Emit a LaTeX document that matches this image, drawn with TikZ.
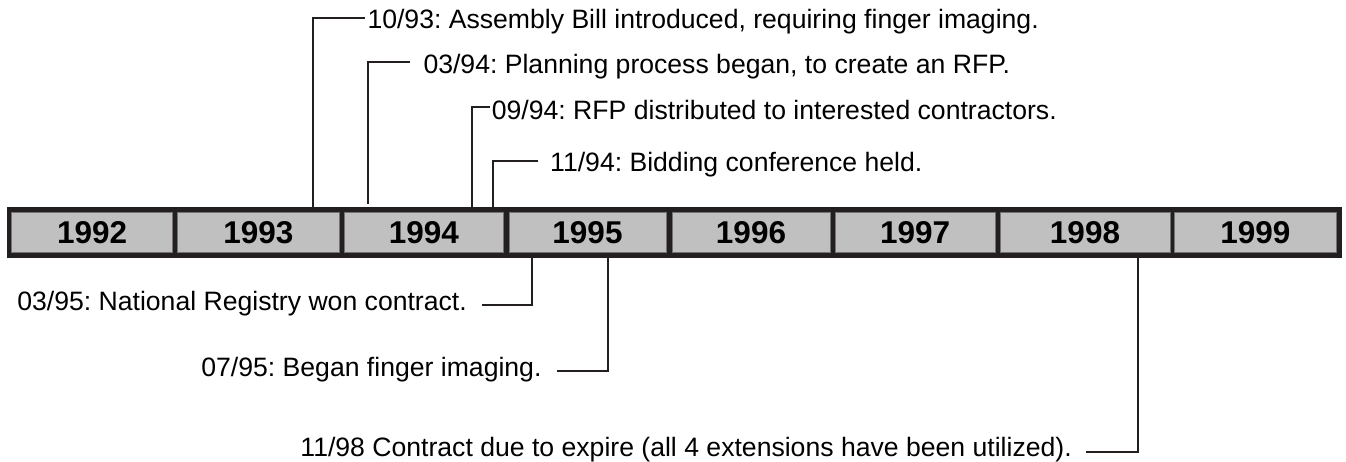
\documentclass[tikz,border=0pt]{standalone}
\usepackage{fontspec}
\setmainfont{Liberation Sans}
\frenchspacing
\definecolor{barblack}{HTML}{231F20}
\definecolor{cellgray}{HTML}{C0C0C0}
\tikzset{
  cell/.style={fill=cellgray, draw=black!55, line width=0.7pt, inner sep=0pt,
    minimum height=40pt, font=\fontsize{31.5}{34}\selectfont\bfseries, text=black},
  evt/.style={inner sep=0pt, font=\fontsize{26.6}{30}\selectfont, text=black},
  conn/.style={draw=barblack, line width=1.8pt, line cap=butt, line join=miter}
}
\begin{document}
\begin{tikzpicture}[x=1pt, y=-1pt]
\useasboundingbox (0,0) rectangle (1346,462);
% bar background
\fill[barblack] (6.7,206.7) rectangle (1341.7,258.3);
% year cells
\node[cell, minimum width=161pt]   (y1992) at (92.2,232.7)   {1992};
\node[cell, minimum width=162pt]   (y1993) at (258.3,232.7)  {1993};
\node[cell, minimum width=159pt]   (y1994) at (423.8,232.7)  {1994};
\node[cell, minimum width=157pt]   (y1995) at (587.5,232.7)  {1995};
\node[cell, minimum width=158pt]   (y1996) at (751,232.7)    {1996};
\node[cell, minimum width=159.7pt] (y1997) at (915.2,232.7)  {1997};
\node[cell, minimum width=170pt]   (y1998) at (1085,232.7)   {1998};
\node[cell, minimum width=162.7pt] (y1999) at (1255.4,232.7) {1999};

% top events
\node[evt, anchor=base west] (e1) at (367.3,28.3)  {10/93: Assembly Bill introduced, requiring finger imaging.};
\node[evt, anchor=base west] (e2) at (423.3,74)    {03/94: Planning process began, to create an RFP.};
\node[evt, anchor=base west] (e3) at (491.7,120)   {09/94: RFP distributed to interested contractors.};
\node[evt, anchor=base west] (e4) at (550,171.7)   {11/94: Bidding conference held.};

% bottom events
\node[evt, anchor=base east] (e5) at (467,310)     {03/95: National Registry won contract.};
\node[evt, anchor=base east] (e6) at (541.7,376.5) {07/95: Began finger imaging.};
\node[evt, anchor=base east] (e7) at (1072,456.5)  {11/98 Contract due to expire (all 4 extensions have been utilized).};

% connector end points
\coordinate (s1) at (365,18.3);   \coordinate (b1) at (312.7,207);
\coordinate (s2) at (410,61.7);   \coordinate (b2) at (368.3,204);
\coordinate (s3) at (490,107.3);  \coordinate (b3) at (471.7,207);
\coordinate (s4) at (538.3,161);  \coordinate (b4) at (492.7,207);
\coordinate (s5) at (482,305);    \coordinate (b5) at (532,258);
\coordinate (s6) at (557,371);    \coordinate (b6) at (608,258);
\coordinate (s7) at (1086,452);   \coordinate (b7) at (1138,258);

\draw[conn] (s1) -| (b1);
\draw[conn] (s2) -| (b2);
\draw[conn] (s3) -| (b3);
\draw[conn] (s4) -| (b4);
\draw[conn] (s5) -| (b5);
\draw[conn] (s6) -| (b6);
\draw[conn] (s7) -| (b7);
\end{tikzpicture}
\end{document}
